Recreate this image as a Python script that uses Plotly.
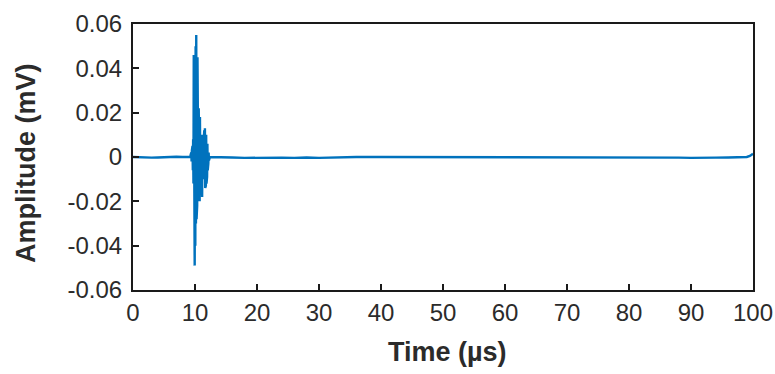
import plotly.graph_objects as go

# --- data (time in µs, amplitude in mV) ---
time_us = [
    0, 1, 2, 3, 4, 5, 6, 7, 8, 9, 9.25,
    9.30, 9.35, 9.40, 9.45, 9.50, 9.55, 9.60, 9.65, 9.70, 9.75,
    9.80, 9.85, 9.90, 9.95, 10.00, 10.05, 10.10, 10.15, 10.20, 10.25,
    10.30, 10.35, 10.40, 10.45, 10.50, 10.55, 10.60, 10.65, 10.70, 10.75,
    10.80, 10.85, 10.90, 10.95, 11.00, 11.05, 11.10, 11.15, 11.20, 11.25,
    11.30, 11.35, 11.40, 11.45, 11.50, 11.55, 11.60, 11.65, 11.70, 11.75,
    11.80, 11.85, 11.90, 11.95, 12.00, 12.05, 12.10, 12.15, 12.20, 12.25,
    12.30, 12.35, 12.40,
    13, 14, 16, 18, 20, 22, 24, 26, 28, 30, 32, 34, 36, 40, 45, 50, 55, 60,
    65, 70, 75, 80, 85, 88, 90, 92, 94, 96, 98, 99, 99.5, 100,
]
amplitude_mv = [
    0.0, -0.0002, -0.0004, -0.0003, -0.0002, 0.0, 0.0, 0.0001, 0.0, 0.0, 0.0,
    0.001, -0.0015, 0.002, -0.002, 0.003, -0.004, 0.005, -0.006, 0.008, -0.012,
    0.046, -0.035, 0.030, -0.049, 0.040, -0.040, 0.050, -0.030, 0.055, -0.028,
    0.054, -0.022, 0.045, -0.018, 0.030, -0.020, 0.022, -0.018, 0.016, -0.020,
    0.018, -0.012, 0.012, -0.010, 0.010, -0.008, 0.009, -0.018, 0.008, -0.009,
    0.010, -0.007, 0.008, -0.008, 0.012, -0.010, 0.013, -0.014, 0.012, -0.013,
    0.010, -0.012, 0.008, -0.009, 0.006, -0.006, 0.004, -0.003, 0.002, -0.0015,
    0.001, -0.0005, 0.0,
    0.0, 0.0, -0.0002, -0.0004, -0.0003, -0.0005, -0.0003, -0.0004, -0.0002, -0.0004, -0.0002, -0.0003, 0.0, 0.0, 0.0, 0.0, 0.0, 0.0,
    0.0, 0.0, 0.0, 0.0, -0.0002, -0.0003, -0.0004, -0.0005, -0.0003, -0.0002, 0.0, 0.0, 0.0005, 0.0015,
]

x_tick_vals = [0, 10, 20, 30, 40, 50, 60, 70, 80, 90, 100]
x_tick_text = ["0", "10", "20", "30", "40", "50", "60", "70", "80", "90", "100"]
y_tick_vals = [-0.06, -0.04, -0.02, 0, 0.02, 0.04, 0.06]
y_tick_text = ["-0.06", "-0.04", "-0.02", "0", "0.02", "0.04", "0.06"]
x_title = "Time (µs)"
y_title = "Amplitude (mV)"

fig = go.Figure(
    go.Scatter(
        x=time_us, y=amplitude_mv, mode="lines",
        line=dict(color="#0072BD", width=2.4),
        showlegend=False, hoverinfo="skip",
    )
)

FONT = "Liberation Sans, Arial, sans-serif"
tick_font = dict(family=FONT, size=24, color="#2b2b2b")
title_font = dict(family=FONT, size=27, color="#2b2b2b")

fig.update_layout(
    width=775, height=374,
    margin=dict(l=133, r=22, t=24, b=84),
    paper_bgcolor="white", plot_bgcolor="white",
    annotations=[
        dict(text="<b>" + x_title + "</b>", xref="paper", yref="paper",
             x=0.5, y=0, xanchor="center", yanchor="middle",
             xshift=4, yshift=-62, showarrow=False, font=title_font),
        dict(text="<b>" + y_title + "</b>", xref="paper", yref="paper",
             x=0, y=0.5, xanchor="center", yanchor="middle", textangle=-90,
             xshift=-107, yshift=-6, showarrow=False, font=title_font),
    ],
)
fig.update_xaxes(
    range=[0, 100], tickvals=x_tick_vals, ticktext=x_tick_text,
    ticks="inside", ticklen=6, tickwidth=1.5, tickcolor="#1a1a1a",
    showline=True, linecolor="#1a1a1a", linewidth=2, mirror=True,
    showgrid=False, zeroline=False, tickfont=tick_font, automargin=False,
)
fig.update_yaxes(
    range=[-0.06, 0.06], tickvals=y_tick_vals, ticktext=y_tick_text,
    ticks="inside", ticklen=6, tickwidth=1.5, tickcolor="#1a1a1a",
    showline=True, linecolor="#1a1a1a", linewidth=2, mirror=True,
    showgrid=False, zeroline=False, tickfont=tick_font, automargin=False,
    ticklabelstandoff=4,
)

fig.write_html(
    "out.html",
    config={"displayModeBar": False},
    post_script="document.body.style.margin='0';document.body.style.overflow='hidden';",
)
